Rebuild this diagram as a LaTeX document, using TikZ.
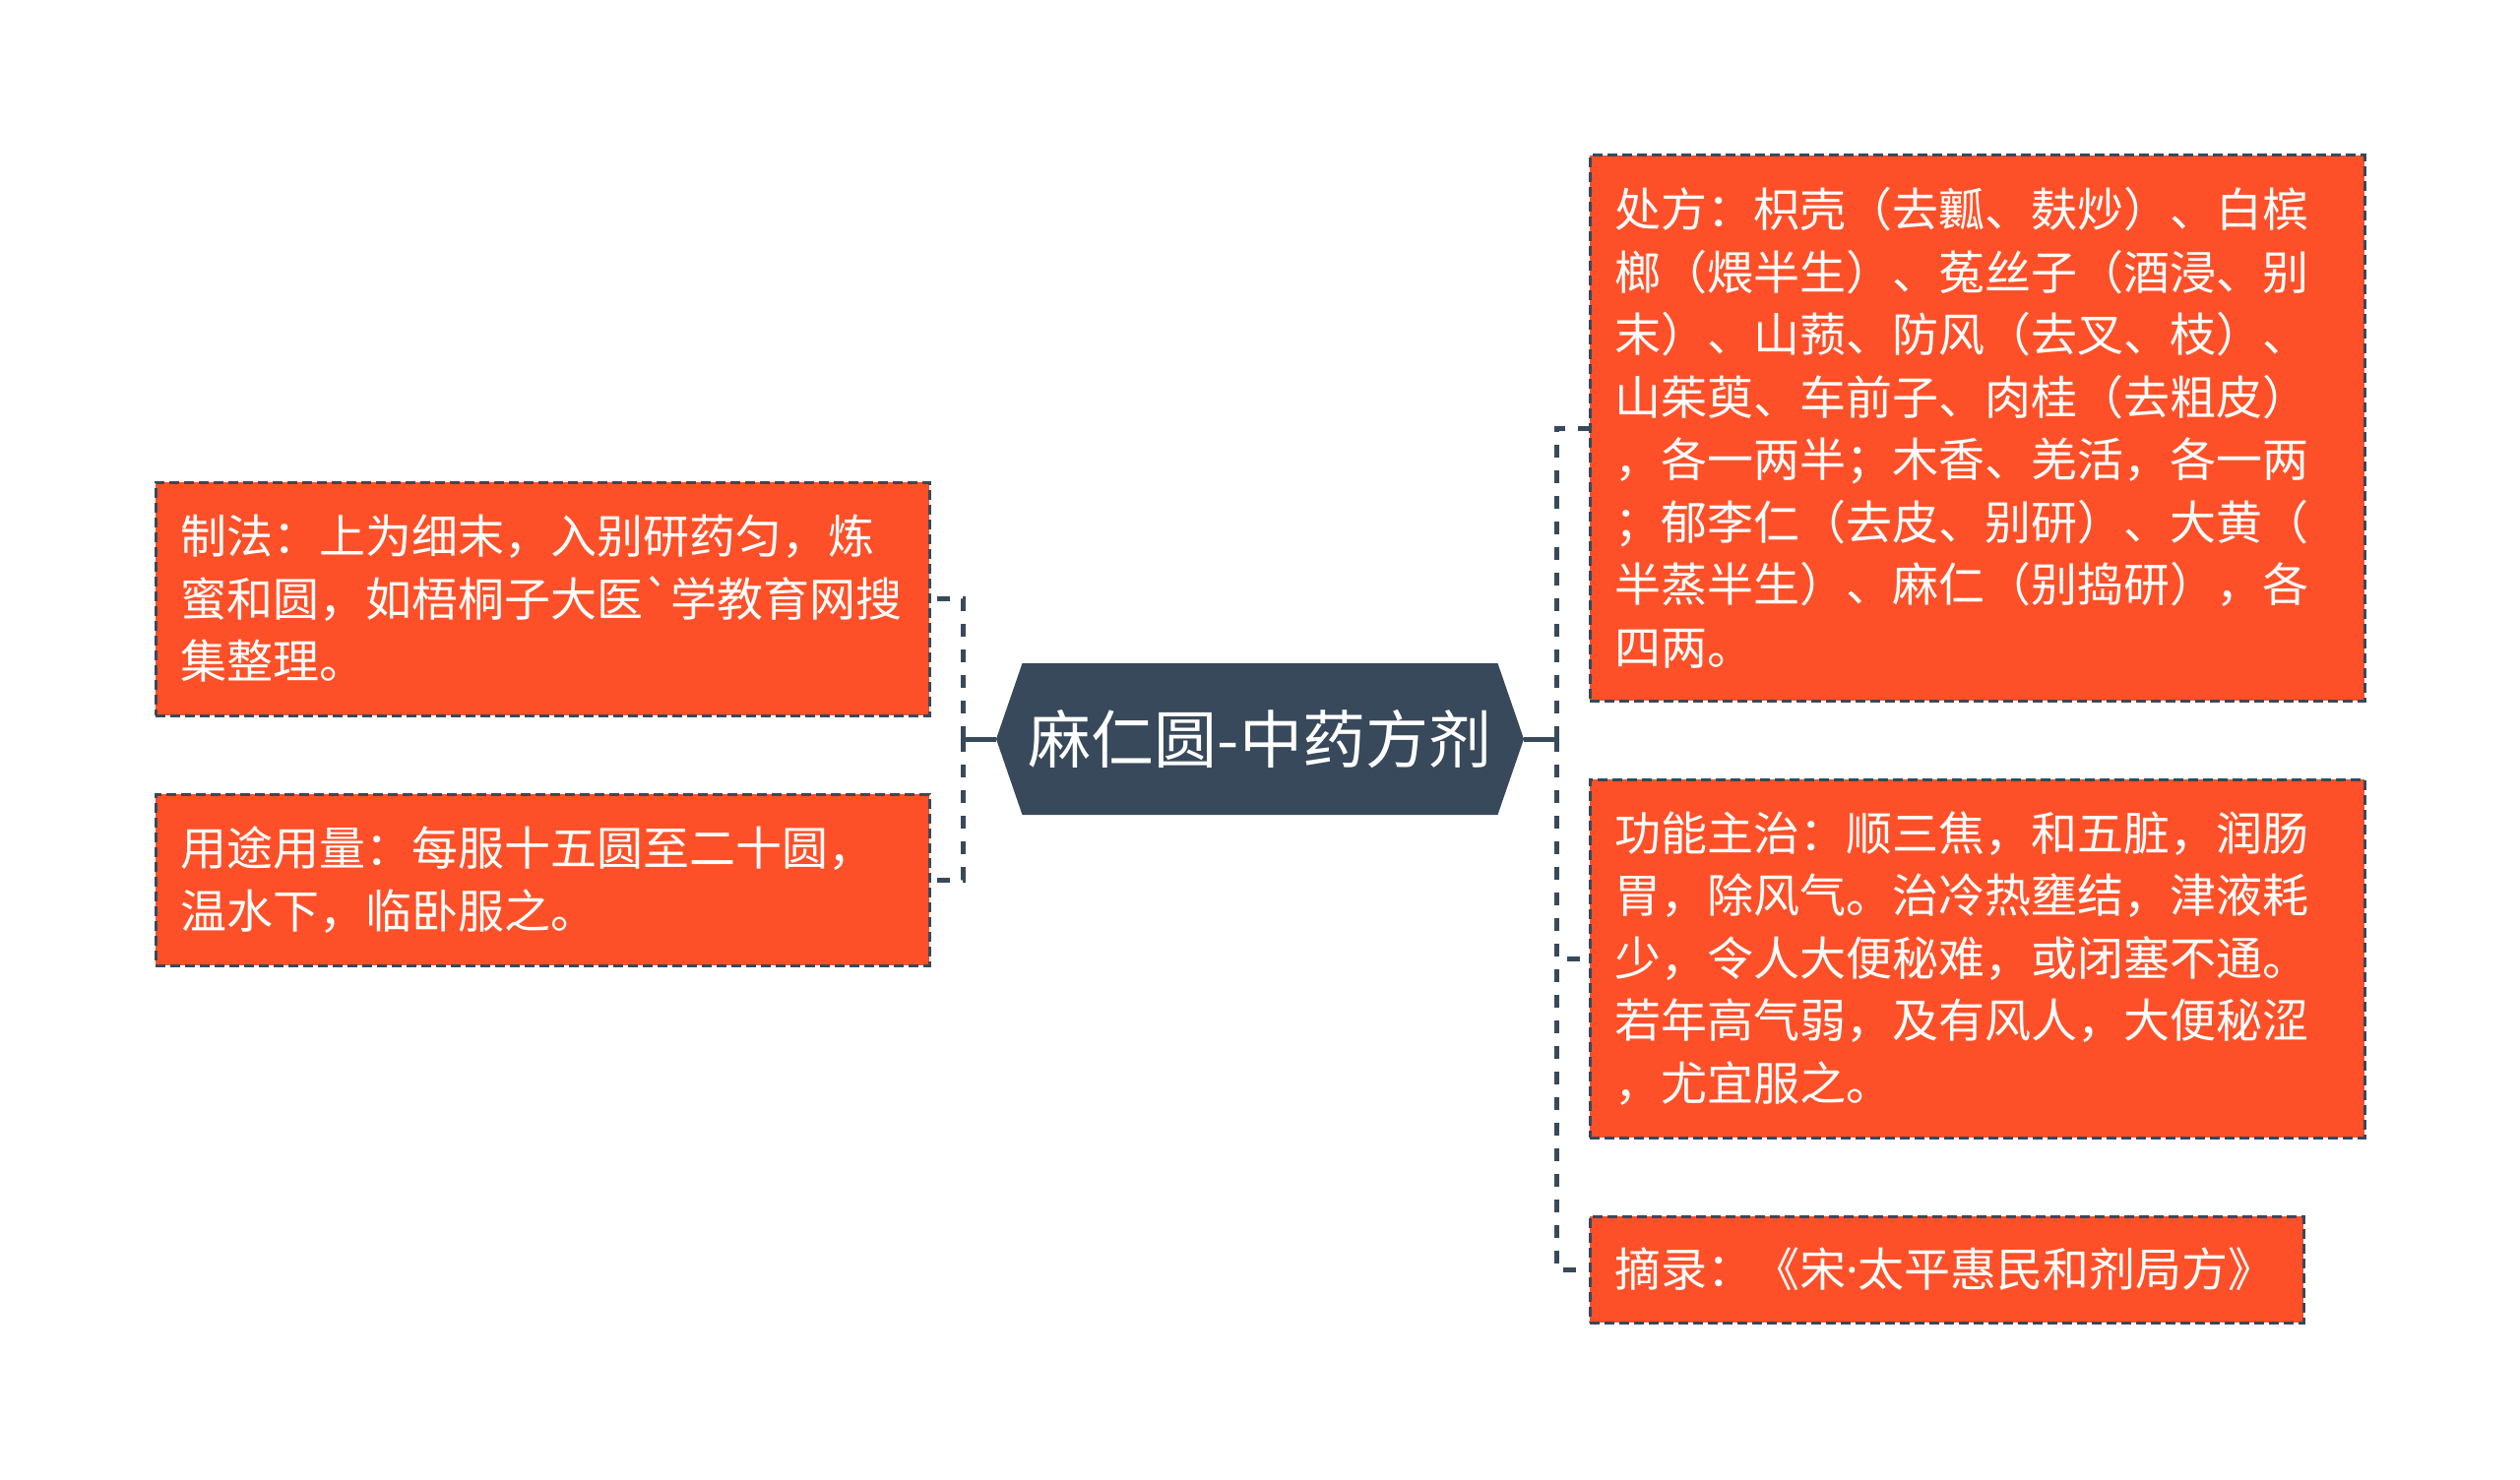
\documentclass[tikz,border=0pt]{standalone}
\usepackage{fontspec}
\newfontfamily\cjk[Ligatures=TeXOff]{Noto Sans CJK SC}
\newfontfamily\latin{Noto Sans}
\usetikzlibrary{shapes.symbols}
\definecolor{slate}{RGB}{55,73,91}
\definecolor{boxred}{RGB}{254,80,40}

\begin{document}
\begin{tikzpicture}[x=0.5pt,y=-0.5pt,
  leaf/.style={draw=slate,line width=1.5pt,dash pattern=on 5pt off 2.5pt,fill=boxred,
    text=white,align=left,inner xsep=12.5pt,inner ysep=0pt,
    font=\cjk\fontsize{23.5pt}{31.75pt}\selectfont},
  trunk/.style={draw=slate,line width=2.5pt},
  branch/.style={trunk,dash pattern=on 6.5pt off 6.5pt}]
  \useasboundingbox (0,0) rectangle (2560,1504);

  \node[signal,signal to=west and east,signal pointer angle=142,fill=slate,
    minimum width=268pt,minimum height=77pt,inner sep=0pt,text=white,
    font=\cjk\fontsize{32pt}{36pt}\selectfont] (main) at (1280,751) {麻仁圆-中药方剂};

  % left side
  \node[leaf,text width=368pt,minimum height=118.5pt] (zhifa) at (551,608.5)
    {制法：上为细末，入别研药匀，炼\\蜜和圆，如梧桐子大医`学教育网搜\\集整理。};
  \node[leaf,text width=368pt,minimum height=87pt] (yongliang) at (551,894)
    {用途用量：每服十五圆至二十圆，\\温水下，临卧服之。};

  % right side
  \node[leaf,text width=368.5pt,minimum height=277pt] (chufang) at (2008.5,435)
    {处方：枳壳（去瓤、麸炒）、白槟\\榔（煨半生）、菟丝子（酒浸、别\\末）、山蓣、防风（去叉、枝）、\\山茱萸、车前子、肉桂（去粗皮）\\，各一两半；木香、羌活，各一两\\；郁李仁（去皮、别研）、大黄（\\半蒸半生）、麻仁（别捣研），各\\四两。};
  \node[leaf,text width=368.5pt,minimum height=182pt] (gongneng) at (2008.5,974)
    {功能主治：顺三焦，和五脏，润肠\\胃，除风气。治冷热壅结，津液耗\\少，令人大便秘难，或闭塞不通。\\若年高气弱，及有风人，大便秘涩\\，尤宜服之。};
  \node[leaf,text width=337.5pt,minimum height=54pt] (zhailu) at (1977.5,1290)
    {摘录：《宋{\latin ·}太平惠民和剂局方》};

  \coordinate (lj) at (978,751);
  \coordinate (rj) at (1581,751);
  \draw[trunk] (main.west) -- (lj);
  \draw[trunk] (main.east) -- (rj);
  \draw[branch] (lj) |- (zhifa.east);
  \draw[branch] (lj) |- (yongliang.east);
  \draw[branch] (rj) |- (chufang.west);
  \draw[branch] (rj) |- (gongneng.west);
  \draw[branch] (rj) |- (zhailu.west);
\end{tikzpicture}
\end{document}
